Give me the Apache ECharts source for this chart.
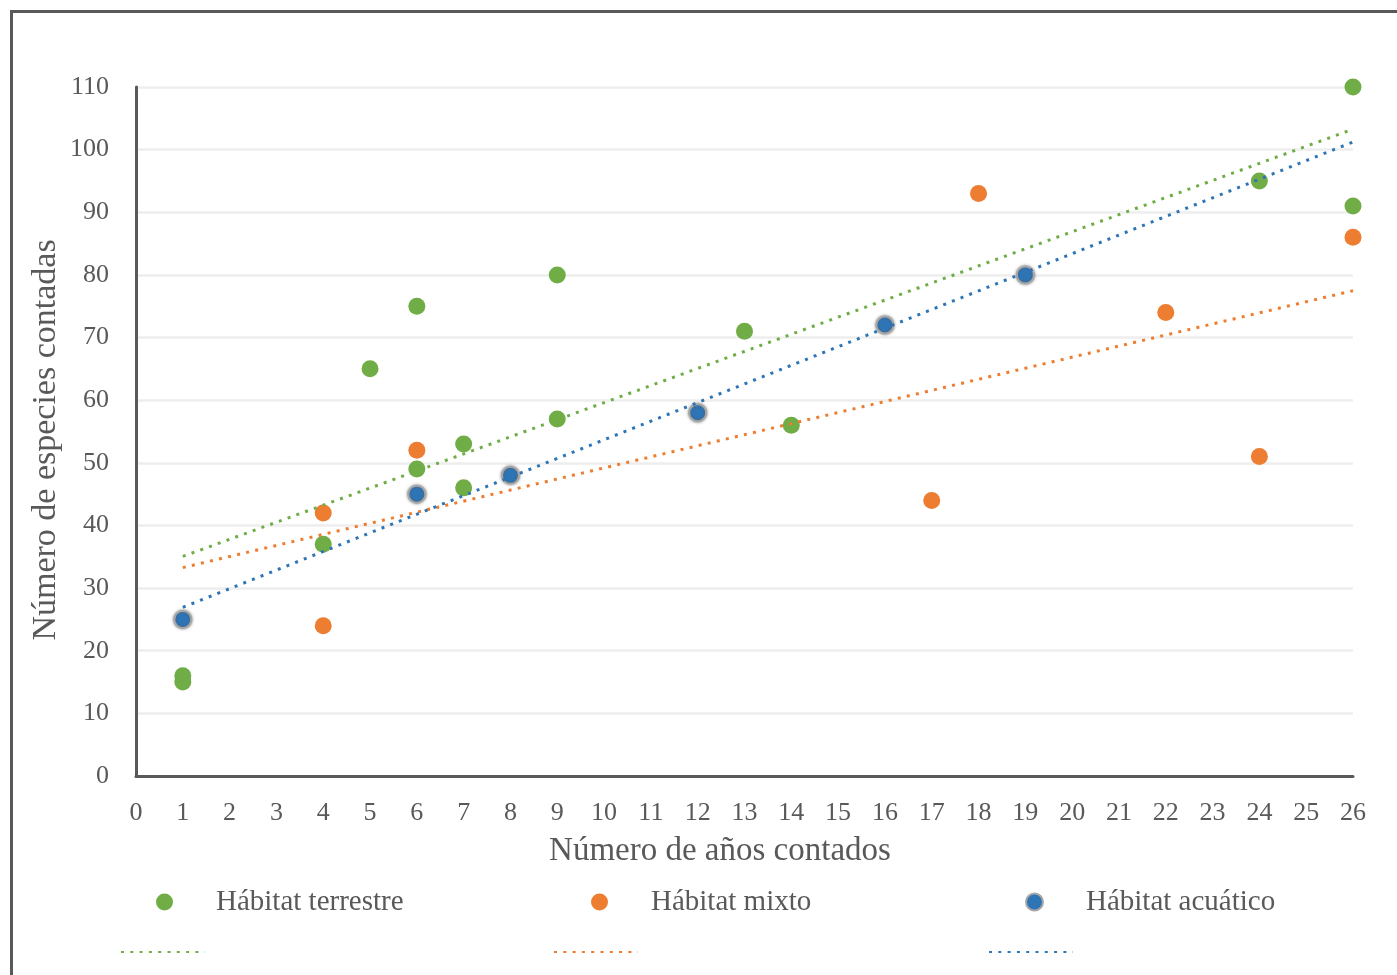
<!DOCTYPE html>
<html>
<head>
<meta charset="utf-8">
<script src="https://cdn.jsdelivr.net/npm/echarts@6/dist/echarts.min.js"></script>
<style>
html,body{margin:0;padding:0;background:#fff;}
#chart{width:1397px;height:975px;}
</style>
</head>
<body>
<div id="chart"></div>
<script>
// ---- data ----
const seriesNames = ['Hábitat terrestre', 'Hábitat mixto', 'Hábitat acuático'];
const terrestreX = [1, 1, 4, 5, 6, 6, 7, 7, 9, 9, 13, 14, 24, 26, 26];
const terrestreY = [16, 15, 37, 65, 75, 49, 53, 46, 80, 57, 71, 56, 95, 110, 91];
const mixtoX = [4, 4, 6, 17, 18, 22, 24, 26];
const mixtoY = [42, 24, 52, 44, 93, 74, 51, 86];
const acuaticoX = [1, 6, 8, 12, 16, 19];
const acuaticoY = [25, 45, 48, 58, 72, 80];
const trendRange = [1, 26];
const xAxisTitle = 'Número de años contados';
const yAxisTitle = 'Número de especies contadas';

// ---- styles ----
const colors = ['#70ad47', '#ed7d31', '#2e75b6'];
const FONT = "'Liberation Serif','Times New Roman',serif";
const TXT = '#595959';

function pairs(xs, ys) { return xs.map((x, i) => [x, ys[i]]); }
function trend(xs, ys) {
  const n = xs.length;
  const mx = xs.reduce((a, b) => a + b, 0) / n;
  const my = ys.reduce((a, b) => a + b, 0) / n;
  let sxy = 0, sxx = 0;
  for (let i = 0; i < n; i++) { sxy += (xs[i] - mx) * (ys[i] - my); sxx += (xs[i] - mx) * (xs[i] - mx); }
  const b = sxy / sxx, a = my - b * mx;
  return trendRange.map(x => [x, a + b * x]);
}

const groups = [[terrestreX, terrestreY], [mixtoX, mixtoY], [acuaticoX, acuaticoY]];
const trendNames = seriesNames.map(n => 'Lineal (' + n + ')');

const series = [];
groups.forEach((g, i) => {
  const itemStyle = { color: colors[i], opacity: 1 };
  if (i === 2) {
    Object.assign(itemStyle, { borderColor: '#a6a6a6', borderWidth: 2, shadowBlur: 3, shadowColor: 'rgba(90,90,90,0.7)' });
  }
  series.push({
    name: seriesNames[i], type: 'scatter', symbol: 'circle', symbolSize: 17,
    data: pairs(g[0], g[1]), itemStyle: itemStyle, z: 3 + i
  });
});
groups.forEach((g, i) => {
  series.push({
    name: trendNames[i], type: 'line', symbol: 'none', silent: true,
    data: trend(g[0], g[1]),
    lineStyle: { color: colors[i], width: 3, type: [3, 6.3] },
    itemStyle: { color: colors[i] },
    z: 10
  });
});

const dotLefts = [156, 591, 1025];
const lineLefts = [120, 553, 988];
const legends = [];
seriesNames.forEach((n, i) => {
  legends.push({
    data: [n], left: dotLefts[i], top: 886, padding: 0, selectedMode: false,
    itemWidth: 17, itemHeight: 17,
    textStyle: { fontFamily: FONT, fontSize: 29, color: TXT, lineHeight: 32, padding: [0, 0, 0, 38] }
  });
});
trendNames.forEach((n, i) => {
  legends.push({
    data: [n], left: lineLefts[i], top: 945, padding: 0, selectedMode: false,
    itemWidth: 84, itemHeight: 14, formatter: () => '',
    itemStyle: { color: 'rgba(0,0,0,0)', borderColor: 'rgba(0,0,0,0)', borderWidth: 0 },
    textStyle: { fontSize: 1 }
  });
});

const chart = echarts.init(document.getElementById('chart'), null, { renderer: 'canvas' });
chart.setOption({
  animation: false,
  backgroundColor: '#ffffff',
  grid: { left: 136, right: 44, top: 87, bottom: 199, containLabel: false },
  xAxis: {
    type: 'value', min: 0, max: 26, interval: 1,
    axisLine: { show: true, onZero: false, lineStyle: { color: TXT, width: 3 } },
    axisTick: { show: false },
    splitLine: { show: false },
    axisLabel: { color: TXT, fontFamily: FONT, fontSize: 26, margin: 24 }
  },
  yAxis: {
    type: 'value', min: 0, max: 110, interval: 10,
    axisLine: { show: true, onZero: false, lineStyle: { color: TXT, width: 3 } },
    axisTick: { show: false },
    splitLine: { show: true, lineStyle: { color: '#eeeeee', width: 2.5 } },
    axisLabel: { color: TXT, fontFamily: FONT, fontSize: 26, margin: 27 }
  },
  legend: legends,
  graphic: [
    { type: 'rect', shape: { x: 11.5, y: 11.5, width: 1420, height: 1020 },
      style: { fill: 'none', stroke: '#595959', lineWidth: 3 }, silent: true, z: 100 },
    { type: 'text', x: 720, y: 851,
      style: { text: xAxisTitle, fontFamily: FONT, fontSize: 33, fill: TXT, align: 'center', verticalAlign: 'middle' } },
    { type: 'text', x: 46, y: 440, rotation: Math.PI / 2,
      style: { text: yAxisTitle, fontFamily: FONT, fontSize: 34, fill: TXT, align: 'center', verticalAlign: 'middle' } }
  ],
  series: series
});
</script>
</body>
</html>
